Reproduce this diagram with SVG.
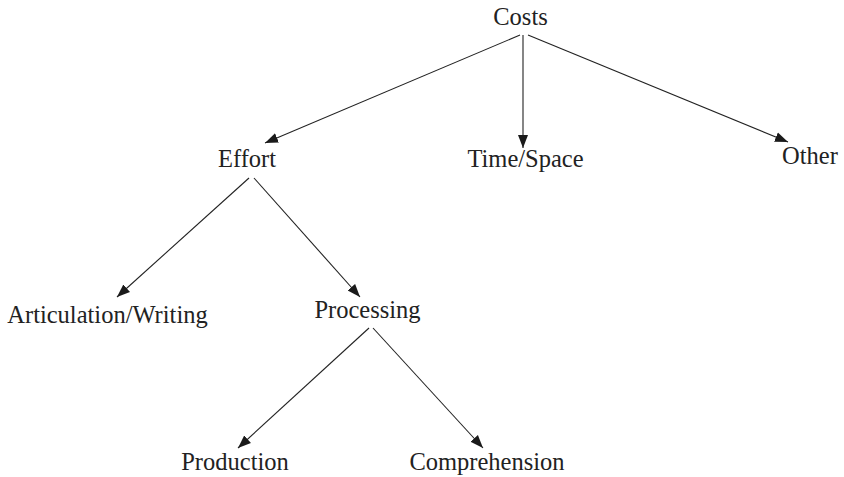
<svg xmlns="http://www.w3.org/2000/svg" width="844" height="477" viewBox="0 0 844 477">
<defs>
<marker id="arr" markerUnits="userSpaceOnUse" markerWidth="14" markerHeight="12" refX="13" refY="5" orient="auto" viewBox="0 0 14 10">
<path d="M0,0 L13,5 L0,10 Z" fill="#1a1a1a"/>
</marker>
<style>
.t{font-family:"Liberation Serif","Times New Roman",serif;font-size:24.5px;fill:#222;text-anchor:middle}
.c line{stroke:#222;stroke-width:1.1;marker-end:url(#arr)}
</style>
</defs>
<rect width="844" height="477" fill="#fff"/>
<g class="c" id="connectors">
<line x1="520" y1="35" x2="265" y2="143"/>
<line x1="523" y1="35" x2="523" y2="148"/>
<line x1="528" y1="35" x2="788" y2="142"/>
<line x1="249" y1="178" x2="117" y2="297"/>
<line x1="254" y1="178" x2="360" y2="297"/>
<line x1="369" y1="328" x2="238" y2="448"/>
<line x1="373" y1="328" x2="483" y2="448"/>
</g>
<g id="costs"><text class="t" x="520.5" y="25">Costs</text></g>
<g id="effort"><text class="t" x="247" y="167">Effort</text></g>
<g id="timespace"><text class="t" x="525.5" y="167">Time/Space</text></g>
<g id="other"><text class="t" x="810" y="164">Other</text></g>
<g id="articulation"><text class="t" x="107.5" y="323">Articulation/Writing</text></g>
<g id="processing"><text class="t" x="367.5" y="318">Processing</text></g>
<g id="production"><text class="t" x="235" y="470">Production</text></g>
<g id="comprehension"><text class="t" x="487" y="470">Comprehension</text></g>
</svg>
